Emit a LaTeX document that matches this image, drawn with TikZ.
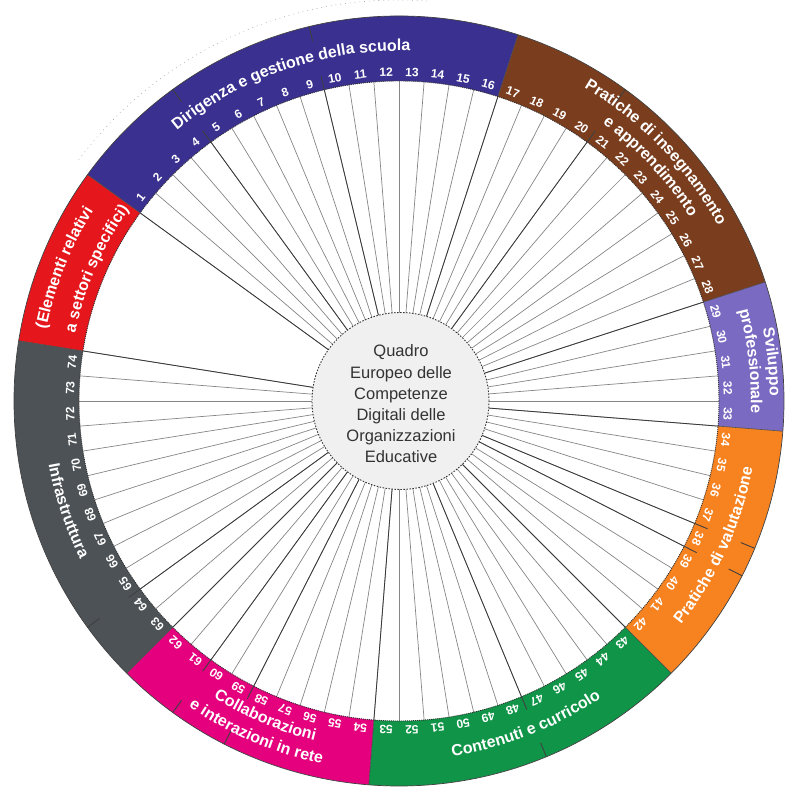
\documentclass[tikz,border=0pt]{standalone}
\usepackage{fontspec}
\setmainfont{Liberation Sans}
\usetikzlibrary{decorations.text}
\definecolor{cblue}{HTML}{3A3090}
\definecolor{cbrown}{HTML}{7A3E1E}
\definecolor{cpurple}{HTML}{7B6AC2}
\definecolor{corange}{HTML}{F68220}
\definecolor{cgreen}{HTML}{109447}
\definecolor{cpink}{HTML}{E5007D}
\definecolor{cgrey}{HTML}{4C5256}
\definecolor{cred}{HTML}{E5161C}
\definecolor{ctext}{HTML}{333333}
\definecolor{cfill}{HTML}{F0F0F0}
\def\Rin{320}
\def\Rout{385}
\newcommand\tfont{\bfseries\fontsize{16}{18}\selectfont}
\newcommand\ringseg[3]{%
  \fill[#1] (#2:\Rin) arc[start angle=#2,end angle=#3,radius=\Rin] -- (#3:\Rout) arc[start angle=#3,end angle=#2,radius=\Rout] -- cycle;}
\newcommand\arctext[4]{%
  \path[decorate,decoration={text along path,text align=center,text color=white,text={|\tfont|#4}}] (#2:#1) arc[start angle=#2,end angle=#3,radius=#1];}
\begin{document}
\begin{tikzpicture}[x=1pt,y=1pt,
  spoke/.style={draw=black!48,line width=0.7pt},
  darkspoke/.style={draw=black!78,line width=0.8pt},
  tickline/.style={draw=black!75,line width=0.9pt},
  segline/.style={draw=black!70,line width=0.6pt},
  num/.style={text=white,font=\bfseries\fontsize{12}{12}\selectfont,inner sep=0pt},
  hubstyle/.style={circle,minimum size=177pt,inner sep=0pt,fill=cfill,draw=black!80,line width=0.9pt,dash pattern=on 1.5pt off 1.5pt},
  centertext/.style={align=center,text=ctext,font=\fontsize{16.5}{21.2}\selectfont}
]
\useasboundingbox (0,0) rectangle (800,800);
\begin{scope}[shift={(399,399)}]
% faint dotted arc
\draw[black!35,dash pattern=on 0.8pt off 4pt,line width=0.6pt] (143:401) arc[start angle=143,end angle=86,radius=401];
% ring segments
\ringseg{cblue}{144}{72}
\ringseg{cbrown}{72}{18}
\ringseg{cpurple}{18}{-4.5}
\ringseg{corange}{-4.5}{-45}
\ringseg{cgreen}{-45}{-94.5}
\ringseg{cpink}{-94.5}{-135}
\ringseg{cgrey}{-135}{-189}
\ringseg{cred}{171}{144}
\foreach \b in {144,72,18,-4.5,-45,-94.5,-135,171}{\draw[segline] (\b:\Rin) -- (\b:\Rout);}
\draw[black!75,line width=0.7pt] (0,0) circle[radius=\Rout];
% spokes
\foreach \k in {0,...,74}{\pgfmathsetmacro\ang{144-4.5*\k}\draw[spoke] (\ang:80) -- (\ang:\Rin);}
\foreach \k in {0,4,9,16,20,28,33,37,38,42,47,53,58,60,62,64,74}{\pgfmathsetmacro\ang{144-4.5*\k}\draw[darkspoke] (\ang:80) -- (\ang:\Rin);}
% sub-division ticks
\foreach \k in {4,9,20,37,38,47,58,60,64}{\pgfmathsetmacro\ang{144-4.5*\k}
  \draw[tickline] (\ang:\Rin) -- (\ang:334);
  \draw[tickline] (\ang:370) -- (\ang:\Rout);}
% inner dotted edge
\draw[black!80,line width=0.9pt,dash pattern=on 1pt off 1pt] (0,0) circle[radius=\Rin];
% hub
\node[hubstyle] (hub) at (1.5,0) {};
\node[centertext] (title) at (2,-3) {Quadro\\Europeo delle\\Competenze\\Digitali delle\\Organizzazioni\\Educative};
% numbers
\foreach \i in {1,...,74}{\pgfmathsetmacro\ang{144-4.5*(\i-0.5)}
  \node[num,rotate=\ang-90] (n\i) at (\ang:329) {\i};}
% titles
\arctext{350}{148.8}{68.8}{Dirigenza e gestione della scuola}
\arctext{364}{84.1}{4.1}{Pratiche di insegnamento}
\arctext{344}{83}{3}{e apprendimento}
\arctext{371}{36}{-24}{Sviluppo}
\arctext{352}{36.5}{-23.5}{professionale}
\arctext{360}{-64.6}{15.4}{Pratiche di valutazione}
\arctext{359}{-108.6}{-28.6}{Contenuti e curricolo}
\arctext{350}{-153}{-73}{Collaborazioni}
\arctext{371}{-153.3}{-73.3}{e interazioni in rete}
\arctext{356}{158.3}{238.3}{Infrastruttura}
\arctext{360}{198.3}{118.3}{(Elementi relativi}
\arctext{331}{196.4}{116.4}{a settori specifici)}
\end{scope}
\end{tikzpicture}
\end{document}
